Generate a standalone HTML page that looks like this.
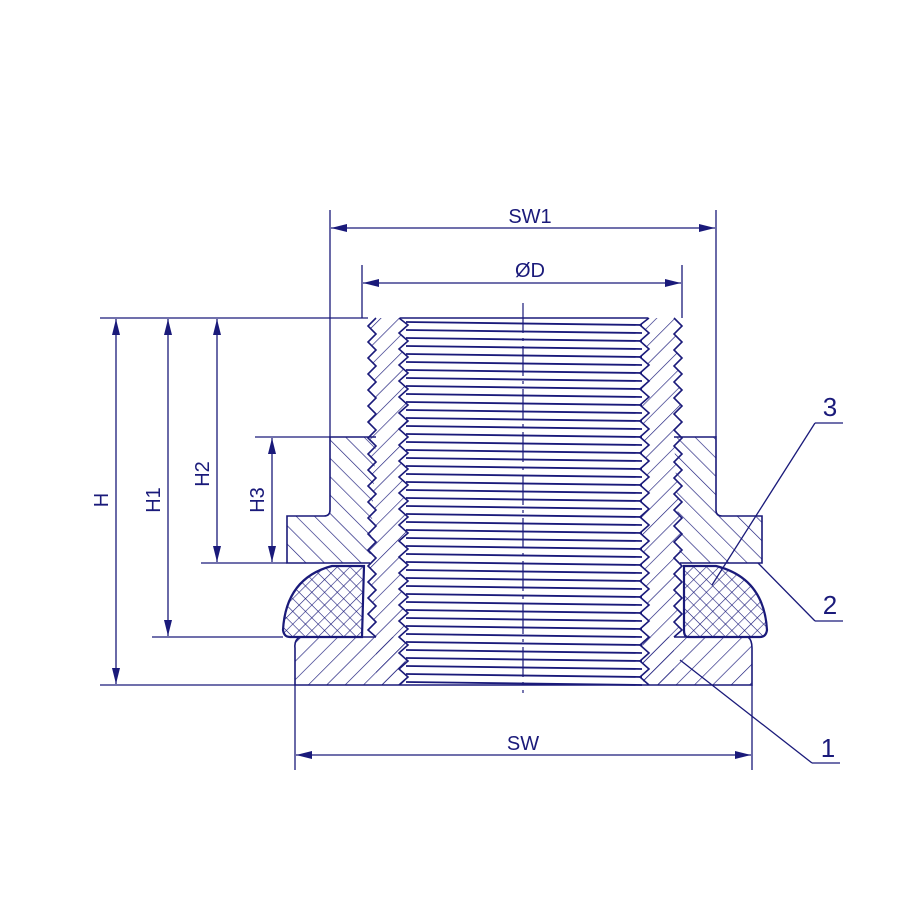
<!DOCTYPE html>
<html><head><meta charset="utf-8"><style>
html,body{margin:0;padding:0;background:#fff;}
svg{display:block;}
text{font-family:"Liberation Sans",sans-serif;fill:#1a1a7a;}
</style></head><body>
<svg id="s" width="900" height="900" viewBox="0 0 900 900" xmlns="http://www.w3.org/2000/svg">
<defs>
<pattern id="hf" patternUnits="userSpaceOnUse" width="13" height="13" patternTransform="rotate(45)">
<line x1="0" y1="0" x2="0" y2="13" stroke="#1a1a7a" stroke-width="1.3"/></pattern>
<pattern id="hb" patternUnits="userSpaceOnUse" width="13" height="13" patternTransform="rotate(-45)">
<line x1="0" y1="0" x2="0" y2="13" stroke="#1a1a7a" stroke-width="1.3"/></pattern>
<pattern id="hx" patternUnits="userSpaceOnUse" width="9" height="9" patternTransform="rotate(45)">
<line x1="0" y1="0" x2="0" y2="9" stroke="#1a1a7a" stroke-width="1.2"/><line x1="0" y1="0" x2="9" y2="0" stroke="#1a1a7a" stroke-width="1.2"/></pattern>
<marker id="a" markerWidth="16" markerHeight="8" refX="16" refY="4" orient="auto-start-reverse" markerUnits="userSpaceOnUse">
<path d="M0,0 L16,4 L0,8 Z" fill="#1a1a7a"/></marker>
</defs>
<g id="g" stroke="#1a1a7a" fill="none" stroke-width="1.6"></g>
<text x="530" y="223" font-size="20" text-anchor="middle">SW1</text>
<text x="530" y="277" font-size="20" text-anchor="middle">ØD</text>
<text x="523" y="750" font-size="20" text-anchor="middle">SW</text>
<text transform="translate(108,500) rotate(-90)" font-size="20" text-anchor="middle">H</text>
<text transform="translate(160,500) rotate(-90)" font-size="20" text-anchor="middle">H1</text>
<text transform="translate(209,474) rotate(-90)" font-size="20" text-anchor="middle">H2</text>
<text transform="translate(264,500) rotate(-90)" font-size="20" text-anchor="middle">H3</text>
<text x="830" y="416" font-size="26" text-anchor="middle">3</text>
<text x="830" y="614" font-size="26" text-anchor="middle">2</text>
<text x="828" y="757" font-size="26" text-anchor="middle">1</text>
</svg>
<script>
(function(){
var g=document.getElementById('g'),NS="http://www.w3.org/2000/svg";
function el(t,a){var e=document.createElementNS(NS,t);for(var k in a)e.setAttribute(k,a[k]);g.appendChild(e);return e;}
function L(x1,y1,x2,y2,w,extra){var o={x1:x1,y1:y1,x2:x2,y2:y2};if(w)o['stroke-width']=w;if(extra)for(var k in extra)o[k]=extra[k];return el('line',o);}
function P(d,a){a=a||{};a.d=d;return el('path',a);}
var p=16,T=318,B=685;
P("M405,637 L300,637 Q294,640 295,648 L295,685 L405,685 Z",{fill:"url(#hf)",stroke:"none"});
P("M643,637 L748,637 Q752,640 752,648 L752,685 L643,685 Z",{fill:"url(#hf)",stroke:"none"});
function outer(xo,dir,ye){var d="M"+xo+","+T;var y=T,t=0;while(y<ye){y=Math.min(y+p/2,ye);d+=" L"+(t?xo:xo-dir*8)+","+y;t=1-t;}return d;}
function inner(xi,dir){var d="M"+xi+","+B;var y=B,t=0;while(y>T){y=Math.max(y-p/2,T);d+=" L"+(t?xi:xi+dir*9)+","+y;t=1-t;}return d;}
function wallFill(xo,xi,dir){return outer(xo,dir,637)+" L"+xo+","+B+" L"+xi+","+B+inner(xi,dir).replace(/^M/," L")+" Z";}
P(wallFill(376,399,1),{fill:"url(#hf)",stroke:"none"});
P(wallFill(674,649,-1),{fill:"url(#hf)",stroke:"none"});
P(outer(376,1,637));P(inner(399,1));P(outer(674,-1,637));P(inner(649,-1));
P("M376,637 L300,637 Q294,640 295,648 L295,685 L400,685");
P("M674,637 L748,637 Q752,640 752,648 L752,685 L648,685");
// nut part 2
P("M376,437 L330,437 L330,510 Q330,516 324,516 L287,516 L287,563 L370,563",{fill:"url(#hb)"});
P("M674,437 L716,437 L716,510 Q716,516 722,516 L762,516 L762,563 L680,563",{fill:"url(#hb)"});
// seal part 3
P("M364,566 L332,566 Q286,578 283,630 Q284,637 290,637 L362,637 Z",{fill:"url(#hx)","stroke-width":2.2});
P("M684,566 L716,566 Q764,578 767,630 Q766,637 760,637 L688,637 Q684,637 684,630 Z",{fill:"url(#hx)","stroke-width":2.2});
for(var y=322;y<684;y+=p/2){L(406,y,642,y+3,1.8);}
L(400,318,648,318,1.6);L(400,685,648,685,1.6);
L(523,303,523,693,1.2,{"stroke-dasharray":"30,5,3,5"});
L(330,210,330,437,1.3);L(716,210,716,437,1.3);
L(362,265,362,318,1.3);L(682,265,682,318,1.3);
L(100,318,368,318,1.3);L(255,437,330,437,1.3);L(201,563,287,563,1.3);L(152,637,283,637,1.3);L(100,685,295,685,1.3);
L(295,685,295,770,1.3);L(752,685,752,770,1.3);
L(331,228,715,228,1.3,{"marker-start":"url(#a)","marker-end":"url(#a)"});
L(363,283,681,283,1.3,{"marker-start":"url(#a)","marker-end":"url(#a)"});
L(296,755,751,755,1.3,{"marker-start":"url(#a)","marker-end":"url(#a)"});
L(116,319,116,684,1.3,{"marker-start":"url(#a)","marker-end":"url(#a)"});
L(168,319,168,636,1.3,{"marker-start":"url(#a)","marker-end":"url(#a)"});
L(217,319,217,562,1.3,{"marker-start":"url(#a)","marker-end":"url(#a)"});
L(272,438,272,562,1.3,{"marker-start":"url(#a)","marker-end":"url(#a)"});
L(815,423,843,423,1.3);L(815,423,712,585,1.3);
L(815,621,843,621,1.3);L(815,621,758,563,1.3);
L(812,763,840,763,1.3);L(812,763,680,660,1.3);
})();
</script>
</body></html>
